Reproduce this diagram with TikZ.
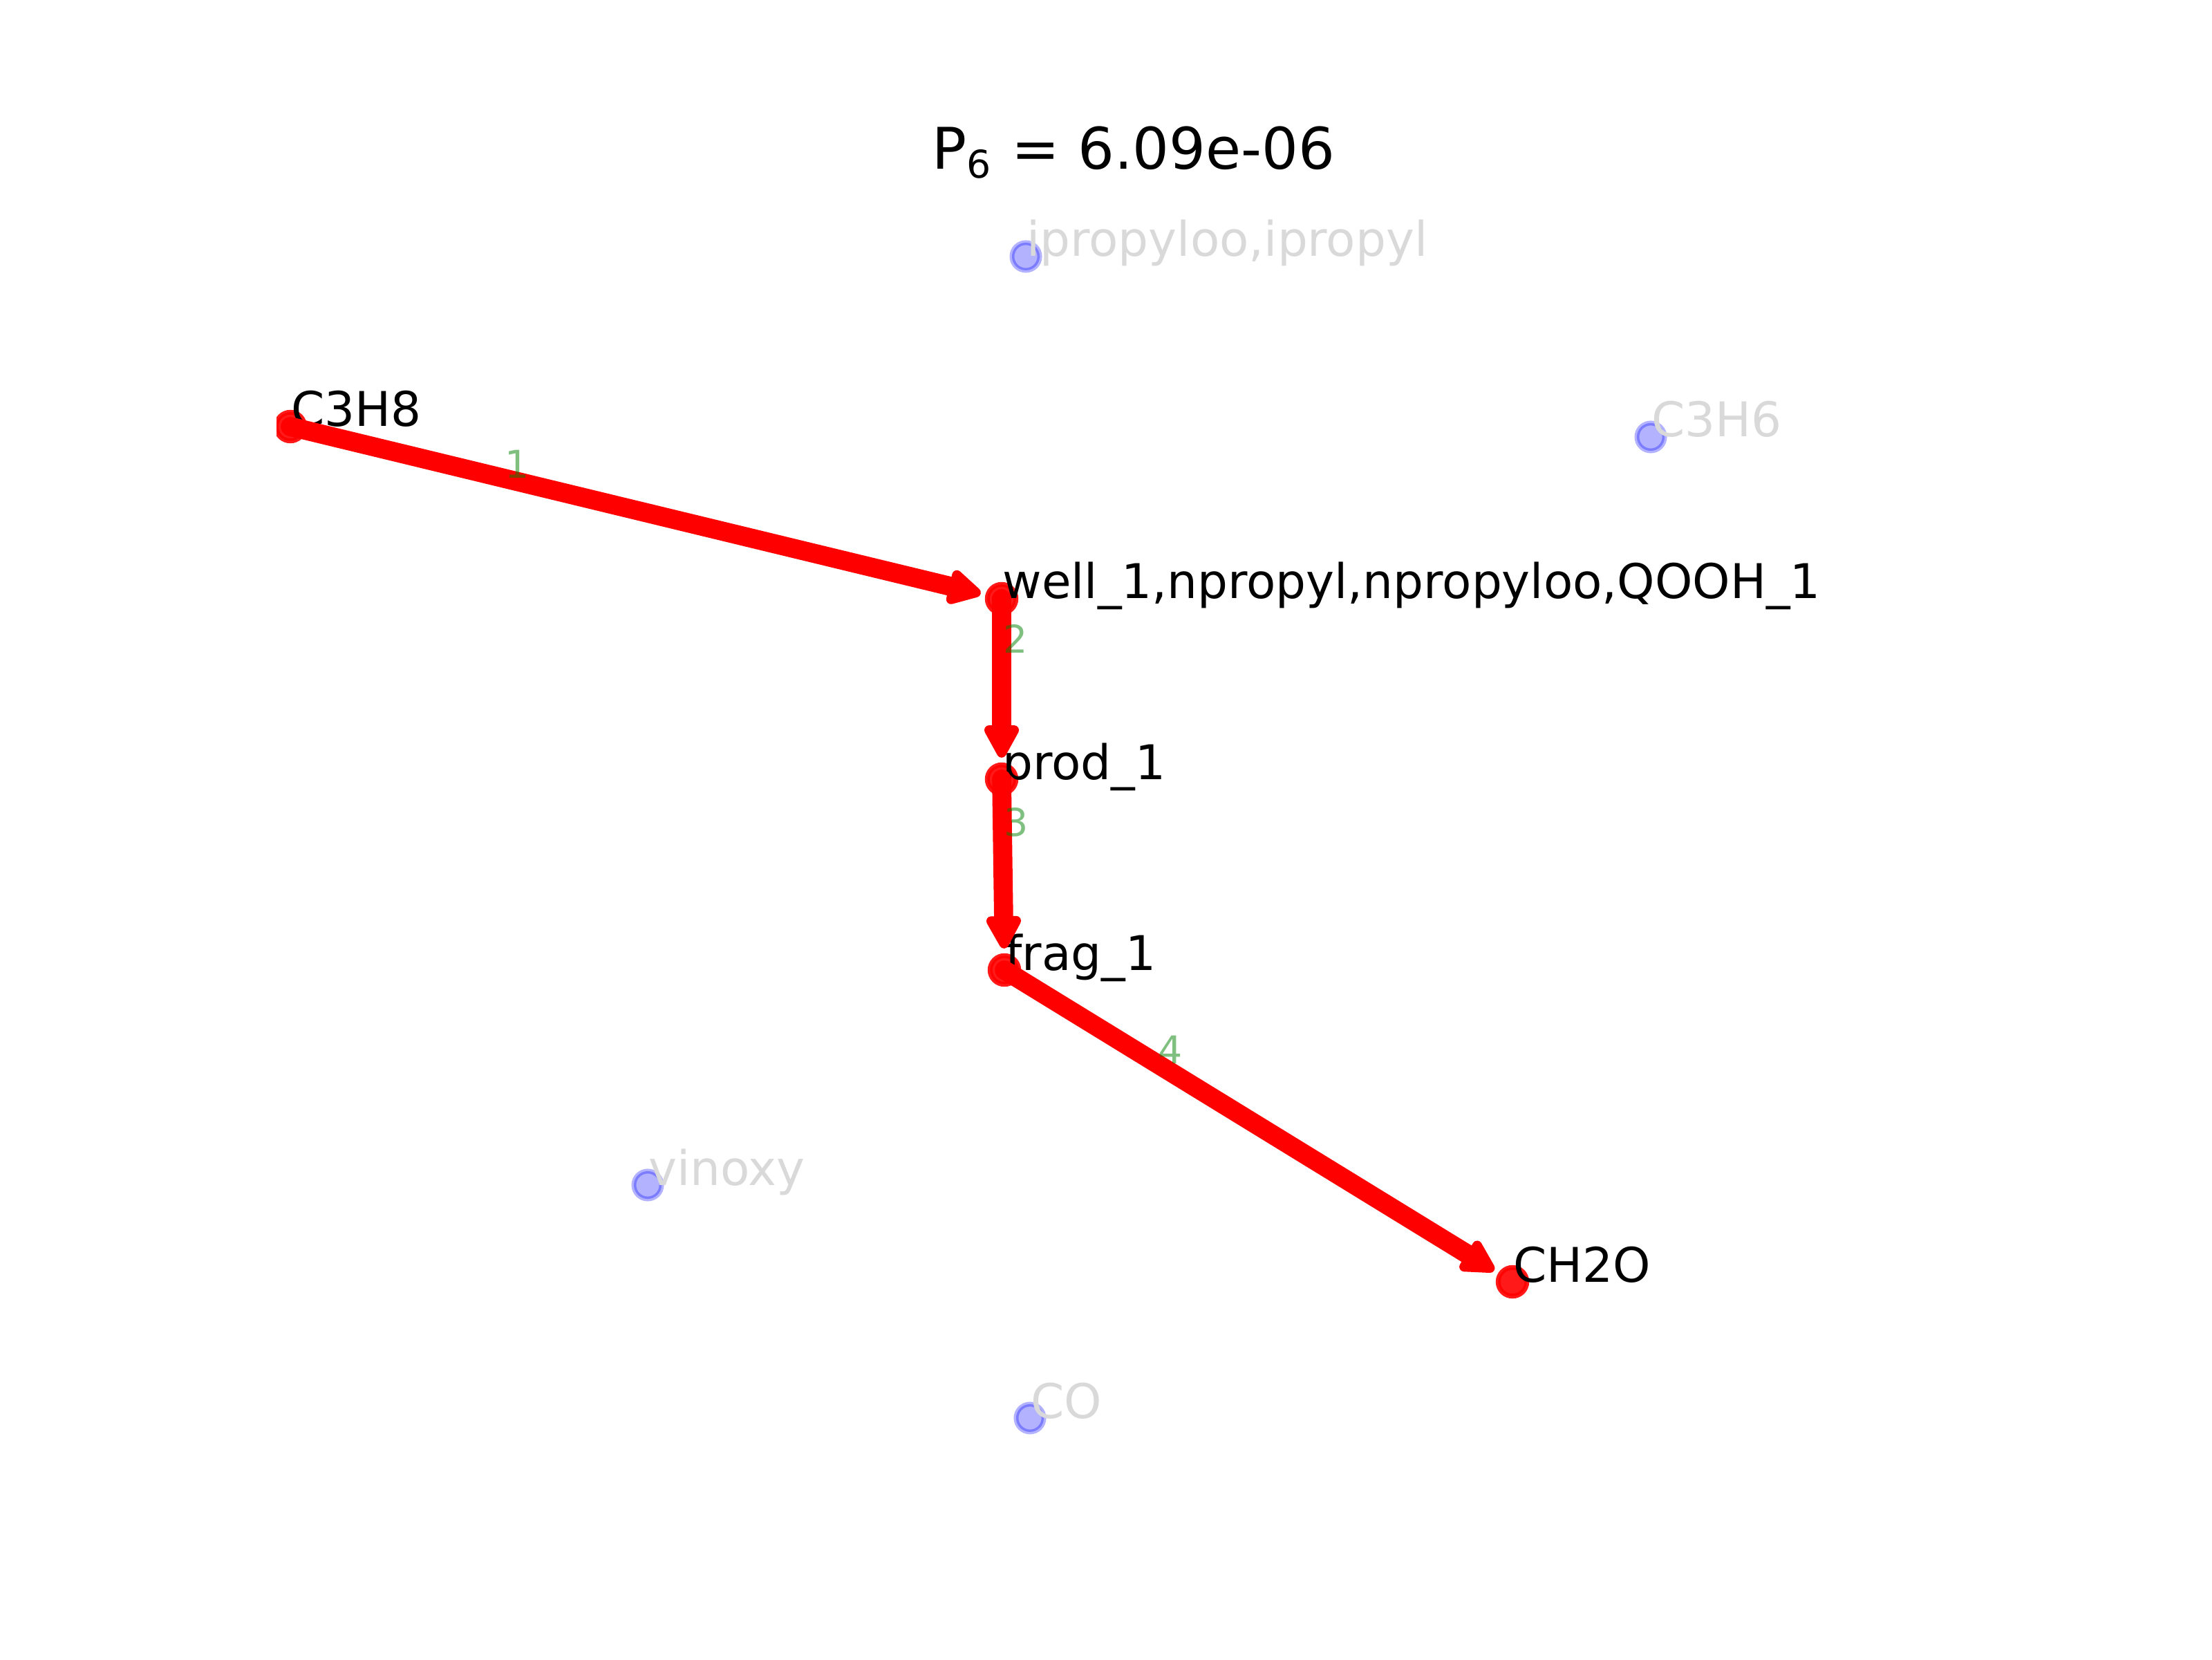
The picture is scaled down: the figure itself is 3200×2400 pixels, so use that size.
\documentclass[tikz,border=0pt]{standalone}
\usepackage{fontspec}
\setmainfont{DejaVu Sans}
\usetikzlibrary{arrows.meta}

\begin{document}
\begin{tikzpicture}[
  x=0.0508mm,y=-0.0508mm,
  hot/.style={circle,inner sep=0pt,minimum size=6pt,line width=1pt,
    draw=red,fill=red,fill opacity=0.9,draw opacity=0.9},
  cold/.style={circle,inner sep=0pt,minimum size=5.8pt,line width=1pt,
    draw=blue,fill=blue,fill opacity=0.3,draw opacity=0.3},
  lab/.style={anchor=base west,inner sep=0pt,font=\fontsize{10}{12}\selectfont},
  hotlab/.style={lab,text=black},
  coldlab/.style={lab,text=black!15},
  edge/.style={red,line width=4pt,line cap=round,
    -{Triangle[round,length=8pt,width=8pt]},shorten >=4.5pt},
  elab/.style={anchor=base west,inner sep=0pt,xshift=-1.7pt,text opacity=0.5,
    text={rgb,1:red,0;green,0.5;blue,0},font=\fontsize{8}{10}\selectfont},
  title/.style={anchor=base,inner sep=0pt,font=\fontsize{12}{14}\selectfont}
]
  \useasboundingbox (0,0) rectangle (3200,2400);

  \node[title] (ttl) at (1640,245) {P\textsubscript{6} = 6.09e-06};

  % nodes off the path
  \foreach \n/\x/\y/\t in {iprop/1484/371/{ipropyloo,ipropyl},
      c3h6/2388/632/C3H6, vinoxy/937/1714/vinoxy, co/1490/2051/CO} {
    \node[cold] (\n) at (\x,\y) {};
    \node[coldlab] (\n-t) at (\n.center) {\t};
  }

  % nodes on the path
  \begin{scope}
    \clip (400,288) rectangle (2880,2136);
    \foreach \n/\x/\y in {c3h8/420/617, well/1449/866, prod/1449/1127,
        frag/1453/1403, ch2o/2188/1854}
      \node[hot] (\n) at (\x,\y) {};
  \end{scope}
  \foreach \n/\t in {c3h8/C3H8, well/{well\_1,npropyl,npropyloo,QOOH\_1},
      prod/prod\_1, frag/frag\_1, ch2o/CH2O}
    \node[hotlab] (\n-t) at (\n.center) {\t};

  \foreach \a/\b/\k in {c3h8/well/1, well/prod/2, prod/frag/3, frag/ch2o/4}
    \draw[edge] (\a.center) -- (\b.center) node[elab,pos=0.3] (e\k) {\k};
\end{tikzpicture}
\end{document}
